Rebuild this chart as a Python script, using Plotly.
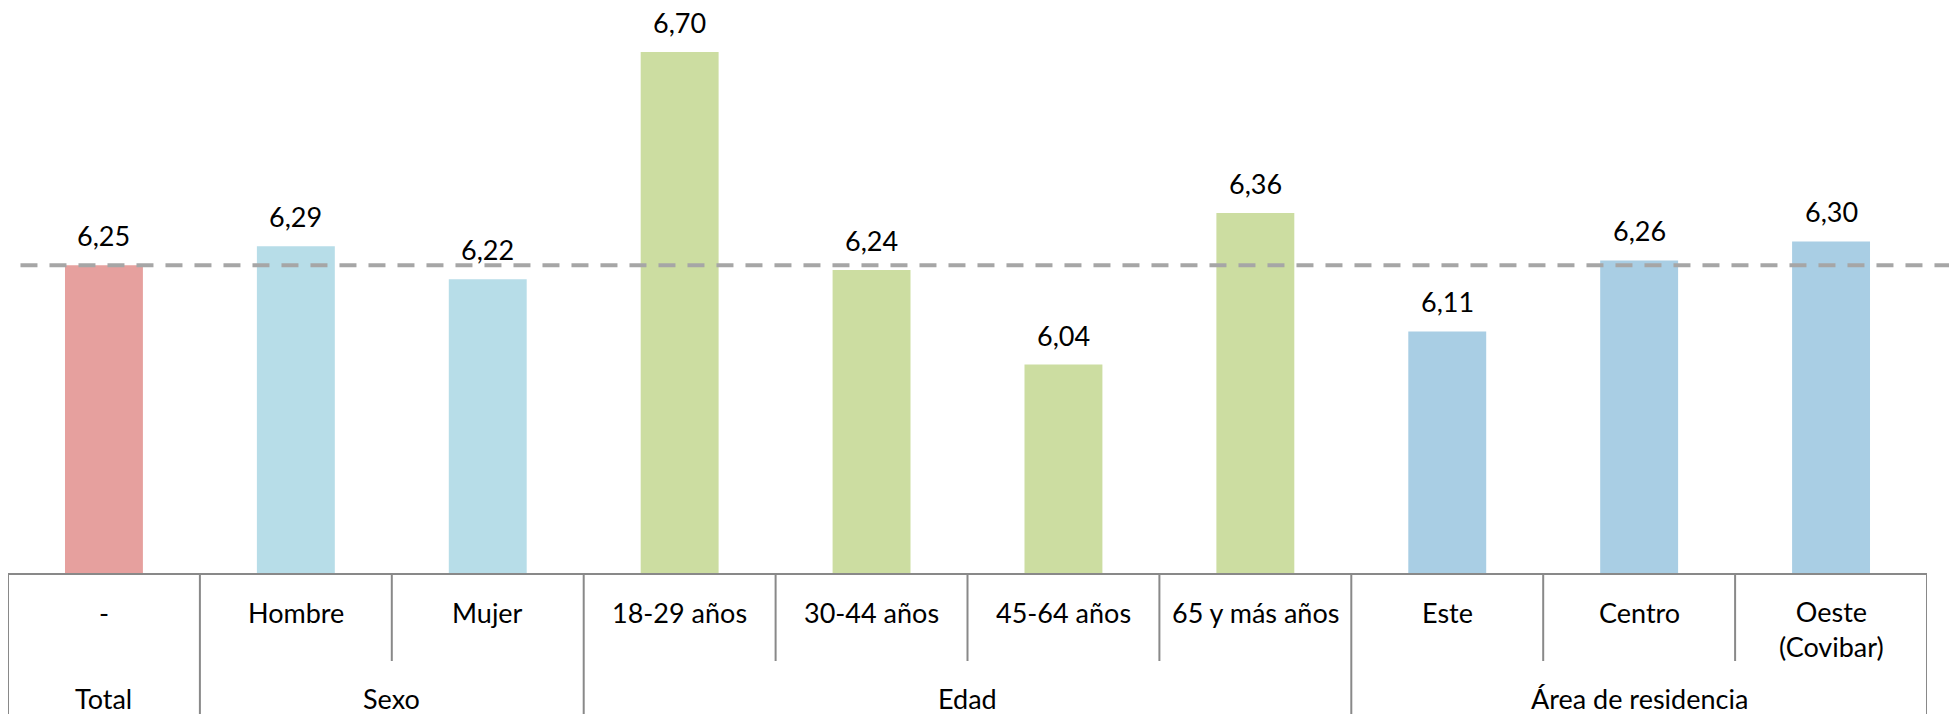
import plotly.graph_objects as go

categories = ["-", "Hombre", "Mujer", "18-29 años", "30-44 años", "45-64 años",
              "65 y más años", "Este", "Centro", "Oeste<br>(Covibar)"]
values = [6.25, 6.29, 6.22, 6.70, 6.24, 6.04, 6.36, 6.11, 6.26, 6.30]
groups = ["Total", "Sexo", "Sexo", "Edad", "Edad", "Edad", "Edad",
          "Área de residencia", "Área de residencia", "Área de residencia"]
group_colors = {"Total": "#E6A09E", "Sexo": "#B7DDE8", "Edad": "#CCDDA1",
                "Área de residencia": "#A9CEE4"}
reference_value = values[0]

FONT = "Century Gothic, Lato, sans-serif"
TXT = 27
x_idx = list(range(len(categories)))

W, H = 1949, 714
M_L, M_R, M_T, M_B = 8, 22, 8, 141
plot_h = float(H - M_T - M_B)

fig = go.Figure()
fig.add_trace(go.Bar(
    x=x_idx, y=values,
    marker=dict(color=[group_colors[g] for g in groups], line=dict(width=0)),
    width=0.406, hoverinfo="skip",
))

# reference dashed line
fig.add_shape(type="line", xref="paper", yref="y", x0=0.0065, x1=1.03,
              y0=reference_value, y1=reference_value,
              line=dict(color="#A6A6A6", width=4, dash="17px,12px"), layer="above")

# value labels
for i, v in zip(x_idx, values):
    fig.add_annotation(x=i, y=v, xref="x", yref="y", text=f"{v:.2f}".replace(".", ","),
                       showarrow=False, yanchor="bottom", yshift=11,
                       font=dict(family=FONT, size=TXT, color="#000000"))

# axis dividers
sub_depth = -88 / plot_h
full_depth = -142 / plot_h
group_bounds = []
for i in range(len(groups) + 1):
    if i == 0 or i == len(groups) or groups[i] != groups[i - 1]:
        group_bounds.append(i)
for i in range(len(groups) + 1):
    depth = full_depth if i in group_bounds else sub_depth
    fig.add_shape(type="line", xref="x", yref="paper", x0=i - 0.5, x1=i - 0.5,
                  y0=0, y1=depth, line=dict(color="#898989", width=2))

# category labels
for i, c in zip(x_idx, categories):
    two = "<br>" in c
    fig.add_annotation(x=i, y=-39 / plot_h, xref="x", yref="paper", text=c,
                       showarrow=False, yanchor="middle",
                       yshift=-17 if two else 0,
                       font=dict(family=FONT, size=TXT, color="#000000"))

# group labels
for a, b in zip(group_bounds[:-1], group_bounds[1:]):
    fig.add_annotation(x=(a + b - 1) / 2, y=-125.5 / plot_h, xref="x", yref="paper",
                       text=groups[a], showarrow=False, yanchor="middle",
                       font=dict(family=FONT, size=TXT, color="#000000"))

fig.update_layout(
    width=W, height=H,
    margin=dict(l=M_L, r=M_R, t=M_T, b=M_B, pad=0),
    plot_bgcolor="white", paper_bgcolor="white",
    showlegend=False,
    xaxis=dict(range=[-0.5, len(categories) - 0.5], showticklabels=False,
               showgrid=False, zeroline=False, showline=True,
               linecolor="#898989", linewidth=2, ticks=""),
    yaxis=dict(range=[5.6, 6.793], visible=False, showgrid=False),
)

fig.write_html("out.html", config={"displayModeBar": False},
               post_script="document.body.style.margin='0';document.body.style.overflow='hidden';")
